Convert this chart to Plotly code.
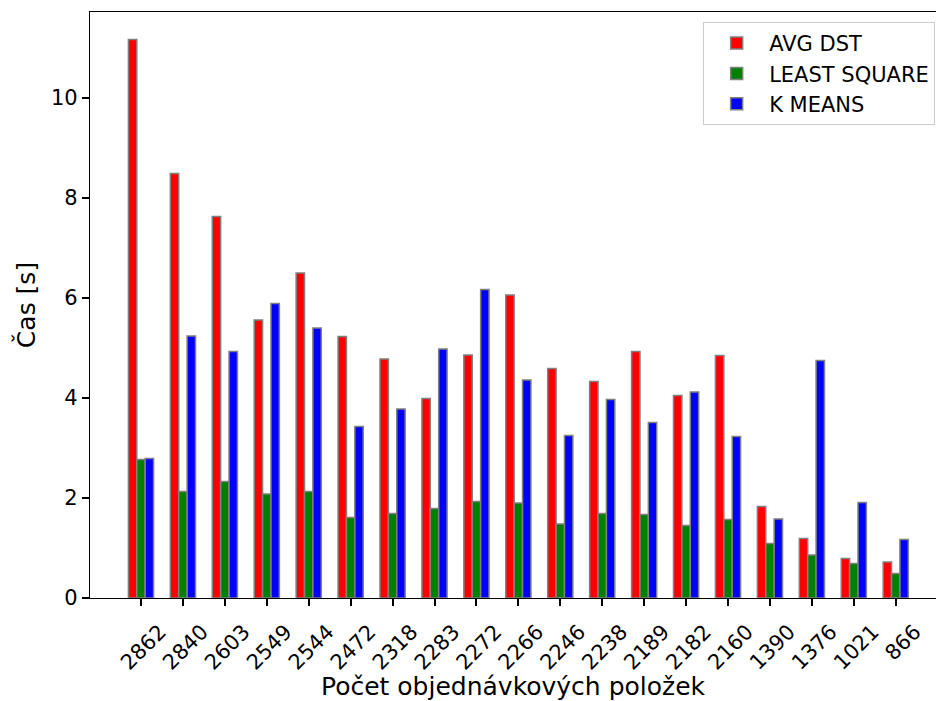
import plotly.graph_objects as go

categories = ["2862", "2840", "2603", "2549", "2544", "2472", "2318", "2283", "2272", "2266",
              "2246", "2238", "2189", "2182", "2160", "1390", "1376", "1021", "866"]
avg_dst = [11.17, 8.49, 7.63, 5.56, 6.50, 5.23, 4.78, 3.99, 4.86, 6.06,
           4.59, 4.33, 4.93, 4.05, 4.85, 1.83, 1.19, 0.79, 0.72]
least_square = [2.77, 2.13, 2.33, 2.08, 2.13, 1.61, 1.69, 1.79, 1.93, 1.90,
                1.48, 1.69, 1.67, 1.45, 1.57, 1.09, 0.86, 0.69, 0.49]
k_means = [2.79, 5.24, 4.93, 5.89, 5.40, 3.43, 3.78, 4.98, 6.17, 4.36,
           3.25, 3.97, 3.51, 4.12, 3.23, 1.58, 4.75, 1.91, 1.17]
series_names = ["AVG DST", "LEAST SQUARE", "K MEANS"]
series_colors = ["#ff0000", "#008000", "#0000ff"]

FONT = "DejaVu Sans"
fig = go.Figure()
for name, vals, col in zip(series_names, [avg_dst, least_square, k_means], series_colors):
    fig.add_trace(go.Bar(x=categories, y=vals, name=name,
                         marker=dict(color=col, line=dict(color="#808080", width=1.5))))

fig.update_layout(
    width=936, height=701,
    margin=dict(l=90, r=0, t=12, b=103),
    barmode="group", bargap=0.4, bargroupgap=0,
    plot_bgcolor="white", paper_bgcolor="white",
    font=dict(family=FONT, size=21, color="black"),
    legend=dict(x=0.999, xanchor="right", y=0.983, yanchor="top",
                bordercolor="#cccccc", borderwidth=1, bgcolor="rgba(255,255,255,0.8)",
                itemwidth=55, font=dict(family=FONT, size=21)),
)
fig.update_xaxes(
    type="category", range=[-1.216, 18.96],
    showline=True, linecolor="black", linewidth=1.3, mirror=True,
    ticks="outside", ticklen=7, tickwidth=1.5, tickcolor="black",
    tickangle=-45, ticklabelshift=19, ticklabelstandoff=5,
    tickfont=dict(size=21),
    showgrid=False,
    title=dict(text="Počet objednávkových položek", font=dict(size=25), standoff=3),
)
fig.update_yaxes(
    range=[0, 11.72], dtick=2,
    showline=True, linecolor="black", linewidth=1.3, mirror=False,
    ticks="outside", ticklen=7, tickwidth=1.5, tickcolor="black",
    tickfont=dict(size=21),
    showgrid=False, zeroline=False,
    title=dict(text="Čas [s]", font=dict(size=25), standoff=8),
)
fig.write_html("out.html")
